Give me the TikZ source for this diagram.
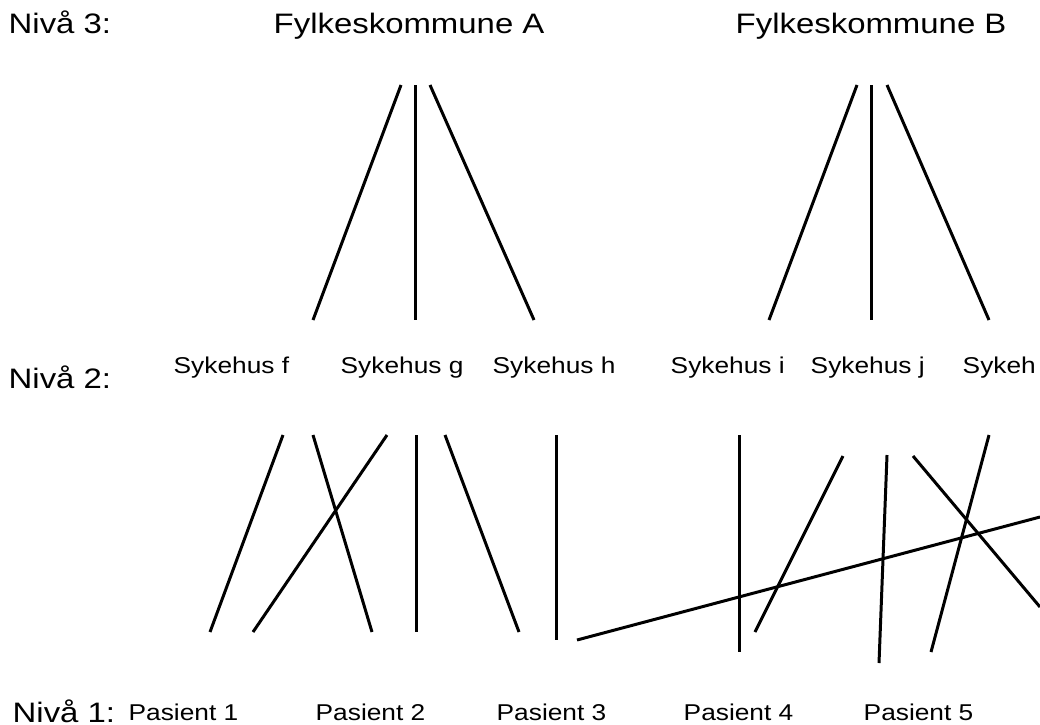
\documentclass[tikz,border=0pt]{standalone}
\usepackage{fontspec}
\newfontfamily\lvlfont[FakeStretch=1.17]{Liberation Sans}
\newfontfamily\namefont[FakeStretch=1.15]{Liberation Sans}

\begin{document}
\begin{tikzpicture}[x=0.01cm,y=-0.01cm]
  \tikzstyle{every node}+=[inner sep=0pt, anchor=base west]
  \tikzstyle{lvl}=[font=\lvlfont\fontsize{8}{10}\selectfont]
  \tikzstyle{nm}=[font=\namefont\fontsize{6.5}{8}\selectfont]
  \tikzstyle{ln}=[black, line width=0.85pt]
  \useasboundingbox (0,0) rectangle (1040,724);
  % levels
  \node [lvl] (niva3) at (8,33) {Nivå 3:};
  \node [lvl] (niva2) at (8,388) {Nivå 2:};
  \node [lvl] (niva1) at (12,722) {Nivå 1:};
  \node [lvl] (fylkeA) at (273,33) {Fylkeskommune A};
  \node [lvl] (fylkeB) at (735,33) {Fylkeskommune B};
  \node [nm] (sykf) at (173,373) {Sykehus f};
  \node [nm] (sykg) at (340,373) {Sykehus g};
  \node [nm] (sykh) at (492,373) {Sykehus h};
  \node [nm] (syki) at (670,373) {Sykehus i};
  \node [nm] (sykj) at (810,373) {Sykehus j};
  \node [nm] (sykk) at (962,373) {Sykeh};
  \node [nm] (pas1) at (128,720) {Pasient 1};
  \node [nm] (pas2) at (315,720) {Pasient 2};
  \node [nm] (pas3) at (496,720) {Pasient 3};
  \node [nm] (pas4) at (683,720) {Pasient 4};
  \node [nm] (pas5) at (863,720) {Pasient 5};
  % line ends
  \foreach \n/\x/\y in {At1/401/85, Ab1/313/320, At2/415/85, Ab2/415/320,
      At3/430/85, Ab3/534/320, Bt1/857/85, Bb1/769/320, Bt2/871/85,
      Bb2/871/320, Bt3/887/85, Bb3/989/320}
    \coordinate (\n) at (\x,\y);
  \foreach \n/\x/\y in {u1/283/435, d1/210/632, u2/313/435, d2/372/632,
      u3/387/435, d3/253/632, u4/416/435, d4/416/632, u5/445/435, d5/519/632,
      u6/556/435, d6/556/640, u7/1040/517, d7/577/640, u8/739/435, d8/739/652,
      u9/843/456, d9/755/632, u10/887/455, d10/879/663, u11/913/456,
      d11/1040/607, u12/989/435, d12/931/652}
    \coordinate (\n) at (\x,\y);
  % fylke -> sykehus
  \draw [ln] (At1) -- (Ab1);
  \draw [ln] (At2) -- (Ab2);
  \draw [ln] (At3) -- (Ab3);
  \draw [ln] (Bt1) -- (Bb1);
  \draw [ln] (Bt2) -- (Bb2);
  \draw [ln] (Bt3) -- (Bb3);
  % sykehus -> pasient
  \foreach \i in {1,...,12}
    \draw [ln] (u\i) -- (d\i);
\end{tikzpicture}
\end{document}
